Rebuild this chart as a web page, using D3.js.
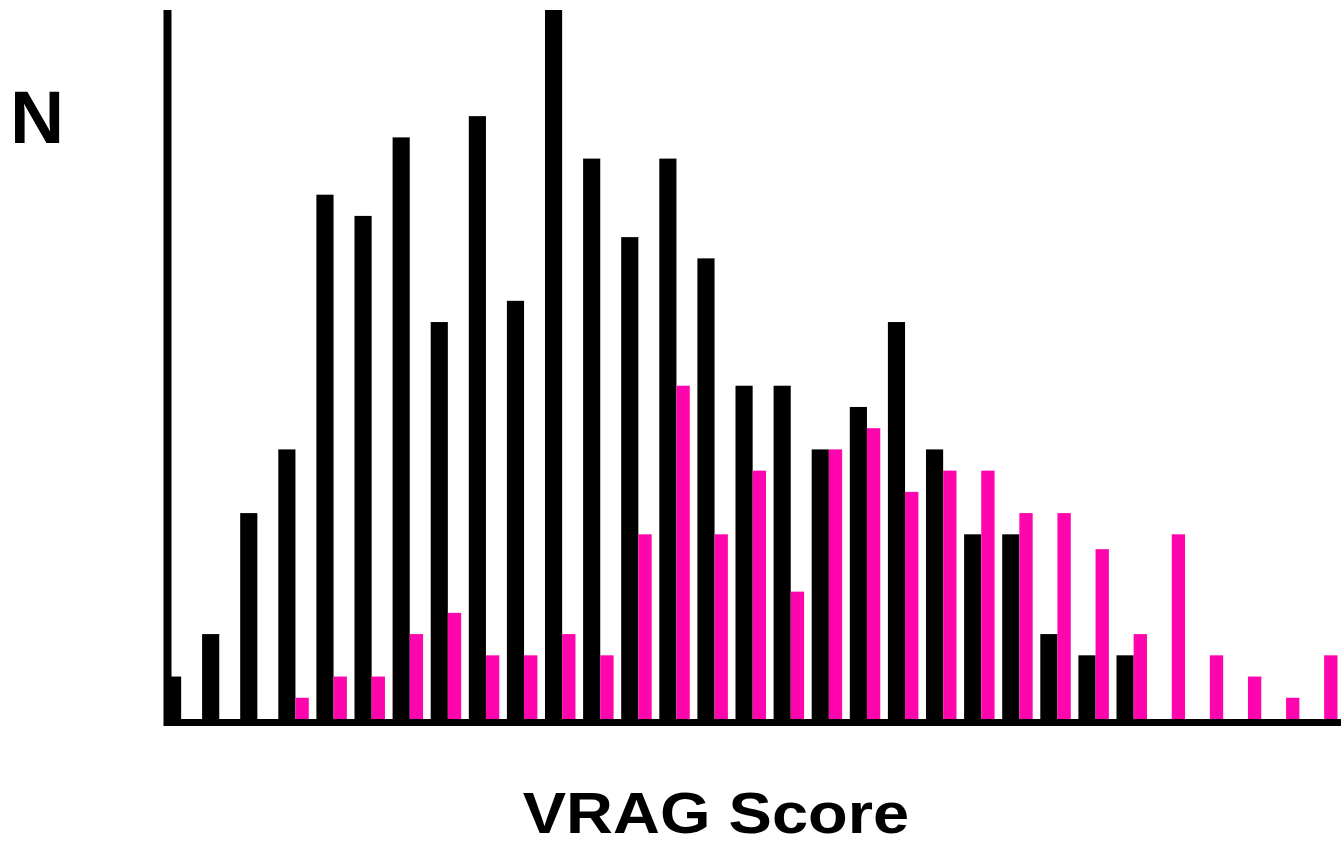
<!DOCTYPE html>
<meta charset="utf-8">
<title>VRAG Score</title>
<script src="https://d3js.org/d3.v7.min.js"></script>
<style>
    body { margin: 0; background: #fff; }
    text { font-family: "Liberation Sans", Arial, sans-serif; font-weight: bold; fill: #000; }
</style>
<body>
<script>
    // Score bins (left to right) and counts
    const bins = d3.range(31);
    const groupA = [2, 4, 9.7, 12.7, 24.7, 23.7, 27.4, 18.7, 28.4, 19.7, 33.4, 26.4, 22.7, 26.4, 21.7, 15.7,
                    15.7, 12.7, 14.7, 18.7, 12.7, 8.7, 8.7, 4, 3, 3, 0, 0, 0, 0, 0];
    const groupB = [0, 0, 0, 1, 2, 2, 4, 5, 3, 3, 4, 3, 8.7, 15.7, 8.7, 11.7,
                    6, 12.7, 13.7, 10.7, 11.7, 11.7, 9.7, 9.7, 8, 4, 8.7, 3, 2, 1, 3];
    const yMax = 33.4;

    const width  = 1341;
    const height = 841;

    const svg = d3.select("body")
                  .append("svg")
                  .attr("width", width)
                  .attr("height", height);

    // Scales
    const x = d3.scaleBand()
                .domain(bins)
                .range([164, 164 + 31 * 38.1])
                .paddingInner(0)
                .paddingOuter(0);

    const y = d3.scaleLinear()
                .domain([0, yMax])
                .range([719, 10]);

    const bw = x.bandwidth();
    const wA = bw * 0.45;   // black bar
    const wB = bw * 0.35;   // magenta bar

    // Black bars
    svg.append("g")
        .attr("id", "barsA")
        .selectAll("rect")
        .data(bins.filter(i => groupA[i] > 0))
        .enter()
        .append("rect")
        .attr("x", i => x(i))
        .attr("y", i => y(groupA[i]))
        .attr("width", wA)
        .attr("height", i => y(0) - y(groupA[i]))
        .attr("fill", "#000");

    // Magenta bars
    svg.append("g")
        .attr("id", "barsB")
        .selectAll("rect")
        .data(bins.filter(i => groupB[i] > 0))
        .enter()
        .append("rect")
        .attr("x", i => x(i) + wA)
        .attr("y", i => y(groupB[i]))
        .attr("width", wB)
        .attr("height", i => y(0) - y(groupB[i]))
        .attr("fill", "#ff05ad");

    // Axes: plain thick lines, no ticks
    const xAxis = d3.axisBottom(x).tickSize(0).tickFormat("").tickSizeOuter(0);
    const yAxis = d3.axisLeft(y).ticks(0).tickSizeOuter(0);

    svg.append("g")
        .attr("id", "xAxis")
        .attr("transform", "translate(0," + (y(0) + 3) + ")")
        .call(xAxis)
        .call(g => g.select(".domain").attr("stroke", "#000").attr("stroke-width", 7));

    svg.append("g")
        .attr("id", "yAxis")
        .attr("transform", "translate(" + (x(0) + 3.5) + ",0)")
        .call(yAxis)
        .call(g => g.select(".domain").attr("stroke", "#000").attr("stroke-width", 8)
                     .attr("d", "M0," + (y(0) + 7) + "V" + y(yMax)));

    // Labels
    svg.append("text")
        .attr("x", 10)
        .attr("y", 143)
        .attr("font-size", 75)
        .text("N");

    svg.append("text")
        .attr("transform", "translate(716,833) scale(1,0.88)")
        .attr("text-anchor", "middle")
        .attr("font-size", 65)
        .text("VRAG Score");
</script>
</body>
